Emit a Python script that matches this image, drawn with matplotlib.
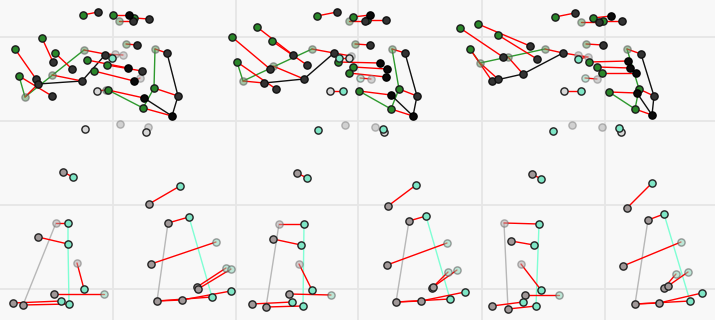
import matplotlib
matplotlib.use("Agg")
import matplotlib.pyplot as plt

# ---------------- data (image-plane coordinates, y grows downward) ----------------
GRID_X = [113, 236, 358, 482, 605]
GRID_Y = [37, 121, 205, 289]

GREEN_PTS = [
    (83, 15), (113, 15), (134, 18), (42, 38), (15, 49), (55, 53), (19, 76), (87, 60), (107, 65),
    (94, 71), (154, 88), (143, 108), (108, 90),
    (317, 16), (353, 17), (367, 20), (257, 27), (232, 37), (272, 41), (237, 62), (338, 62),
    (353, 67), (349, 73), (359, 91), (399, 89), (391, 109),
    (555, 17), (593, 18), (603, 21), (460, 28), (478, 24), (498, 35), (470, 49), (589, 62),
    (597, 67), (602, 73), (609, 92), (639, 89), (635, 109),
]
GREEN_FADED_PTS = [
    (119, 21), (25, 97), (84, 50), (52, 75), (126, 44), (155, 49), (106, 90),
    (349, 21), (243, 81), (312, 49), (273, 66), (355, 44), (392, 49),
    (581, 22), (480, 63), (508, 57), (545, 49), (586, 44), (627, 49),
]
DARK_PTS = [
    (98, 12), (149, 19), (133, 21), (53, 62), (36, 79), (72, 69), (52, 96), (38, 84),
    (82, 81), (105, 55), (142, 71), (137, 45), (167, 53), (178, 96),
    (337, 12), (386, 20), (365, 21), (293, 55), (270, 69), (307, 65), (276, 89),
    (264, 83), (304, 79), (334, 53), (370, 45), (405, 53), (417, 96),
    (575, 13), (622, 21), (599, 22), (530, 46), (537, 59), (503, 57), (492, 81),
    (498, 79), (523, 74), (563, 53), (603, 45), (641, 54), (654, 96),
]
BLACK_PTS = [
    (129, 15), (128, 68), (134, 81), (144, 98), (172, 116),
    (370, 15), (380, 63), (387, 69), (386, 77), (391, 95), (413, 116),
    (611, 16), (628, 61), (630, 68), (636, 73), (637, 93), (652, 115),
]
PALE_PTS = [
    (115, 54), (123, 55), (140, 78), (120, 124), (148, 127),
    (351, 56), (371, 79), (345, 125), (375, 127),
    (578, 55), (588, 57), (597, 79), (572, 125), (602, 127),
]
OPEN_PTS = [(97, 91), (146, 132), (330, 91), (564, 91), (85, 129), (384, 132), (621, 132), (349, 58)]

GRAY_PTS = [
    (63, 172), (149, 204), (38, 237), (54, 294), (13, 303), (23, 305), (168, 223), (151, 264),
    (197, 287), (198, 289), (157, 301), (182, 300),
    (297, 173), (388, 206), (273, 239), (289, 294), (252, 304), (266, 307), (409, 221),
    (387, 265), (432, 288), (433, 287), (396, 302), (421, 301),
    (532, 174), (627, 208), (511, 241), (525, 295), (492, 306), (508, 309), (648, 220),
    (623, 266), (664, 288), (668, 286), (635, 304), (659, 303),
]
GRAY_FADED_PTS = [(56, 223), (77, 263), (279, 224), (299, 264), (504, 223), (521, 264)]
AQUA_PTS = [
    (73, 177), (180, 186), (68, 223), (68, 244), (84, 289), (61, 301), (69, 304), (189, 217),
    (212, 297), (231, 291), (112, 58),
    (307, 178), (416, 185), (304, 224), (301, 245), (312, 290), (292, 302), (303, 306),
    (426, 216), (450, 299), (465, 292), (339, 58), (343, 91), (318, 130), (383, 129),
    (541, 179), (652, 183), (539, 224), (534, 245), (541, 290), (523, 302), (536, 306),
    (664, 214), (690, 301), (702, 293), (578, 59), (581, 91), (553, 131), (619, 128),
]
AQUA_FADED_PTS = [
    (104, 294), (216, 242), (226, 268), (231, 269),
    (331, 295), (447, 243), (448, 272), (457, 270), (360, 78),
    (559, 295), (681, 242), (676, 274), (688, 272), (585, 78),
]

RED_SEGMENTS = [
    ((83, 15), (98, 12)), ((113, 15), (129, 15)), ((134, 18), (149, 19)), ((119, 21), (133, 21)),
    ((42, 38), (53, 62)), ((15, 49), (36, 79)), ((55, 53), (72, 69)), ((19, 76), (52, 96)),
    ((25, 97), (38, 84)), ((84, 50), (105, 54)), ((105, 54), (123, 55)), ((87, 60), (128, 68)),
    ((107, 65), (142, 71)), ((94, 71), (134, 81)), ((134, 81), (140, 78)), ((52, 75), (82, 81)),
    ((126, 44), (137, 45)), ((155, 49), (167, 53)), ((154, 88), (178, 96)),
    ((143, 108), (172, 116)), ((108, 90), (144, 98)), ((97, 91), (106, 90)),
    ((63, 172), (73, 177)), ((149, 204), (180, 186)), ((56, 223), (68, 223)),
    ((38, 237), (68, 244)), ((77, 263), (84, 289)), ((54, 294), (104, 294)),
    ((13, 303), (61, 301)), ((23, 305), (69, 304)), ((168, 223), (189, 217)),
    ((151, 264), (216, 242)), ((197, 287), (226, 268)), ((198, 289), (231, 269)),
    ((157, 301), (182, 300)), ((157, 301), (212, 297)), ((182, 300), (231, 291)),
    ((317, 16), (337, 12)), ((353, 17), (370, 15)), ((367, 20), (386, 20)), ((349, 21), (365, 21)),
    ((257, 27), (293, 55)), ((232, 37), (270, 69)), ((272, 41), (307, 65)), ((237, 62), (276, 89)),
    ((243, 81), (264, 83)), ((312, 49), (334, 53)), ((334, 53), (351, 56)), ((273, 66), (304, 79)),
    ((338, 62), (380, 63)), ((353, 67), (387, 69)), ((349, 73), (386, 77)), ((360, 78), (371, 79)),
    ((355, 44), (370, 45)), ((330, 91), (343, 91)), ((359, 91), (391, 95)), ((392, 49), (405, 53)),
    ((399, 89), (417, 96)), ((391, 109), (413, 116)), ((339, 58), (349, 58)),
    ((297, 173), (307, 178)), ((388, 206), (416, 185)), ((279, 224), (304, 224)),
    ((273, 239), (301, 245)), ((299, 264), (312, 290)), ((289, 294), (331, 295)),
    ((252, 304), (292, 302)), ((266, 307), (303, 306)), ((409, 221), (426, 216)),
    ((387, 265), (447, 243)), ((432, 288), (448, 272)), ((433, 287), (457, 270)),
    ((396, 302), (421, 301)), ((396, 302), (450, 299)), ((421, 301), (465, 292)),
    ((555, 17), (575, 13)), ((593, 18), (611, 16)), ((603, 21), (622, 21)), ((581, 22), (599, 22)),
    ((478, 24), (530, 46)), ((498, 35), (537, 59)), ((460, 28), (503, 57)), ((470, 49), (492, 81)),
    ((480, 63), (498, 79)), ((508, 57), (523, 74)), ((545, 49), (563, 53)), ((563, 53), (588, 57)),
    ((589, 62), (628, 61)), ((597, 67), (630, 68)), ((602, 73), (636, 73)), ((585, 78), (597, 79)),
    ((586, 44), (603, 45)), ((564, 91), (581, 91)), ((609, 92), (637, 93)), ((627, 49), (641, 54)),
    ((639, 89), (654, 96)), ((635, 109), (652, 115)), ((578, 59), (588, 57)),
    ((532, 174), (541, 179)), ((627, 208), (652, 183)), ((504, 223), (539, 224)),
    ((511, 241), (534, 245)), ((521, 264), (541, 290)), ((525, 295), (559, 295)),
    ((492, 306), (523, 302)), ((508, 309), (536, 306)), ((648, 220), (664, 214)),
    ((623, 266), (681, 242)), ((664, 288), (676, 274)), ((668, 286), (688, 272)),
    ((635, 304), (659, 303)), ((635, 304), (690, 301)), ((659, 303), (702, 293)),
]

GREEN_LINES = [
    [(19, 76), (25, 97), (84, 50)], [(155, 49), (154, 88), (143, 108)], [(108, 90), (143, 108)],
    [(237, 62), (243, 81), (312, 49)], [(392, 49), (399, 89), (391, 109)], [(359, 91), (391, 109)],
    [(470, 49), (480, 63), (545, 49)], [(627, 49), (639, 89), (635, 109)], [(609, 92), (635, 109)],
]
BLACK_LINES = [
    [(38, 84), (82, 81), (105, 55)], [(167, 53), (178, 96), (172, 116)], [(144, 98), (172, 116)],
    [(264, 83), (304, 79), (334, 53)], [(405, 53), (417, 96), (413, 116)], [(391, 95), (413, 116)],
    [(492, 81), (523, 74), (563, 53)], [(641, 54), (654, 96), (652, 115)], [(637, 93), (652, 115)],
]
GRAY_LINES = [
    [(56, 223), (23, 305)], [(168, 223), (157, 301)],
    [(279, 224), (266, 307)], [(409, 221), (396, 302)],
    [(504, 223), (508, 309)], [(648, 220), (635, 304)],
]
AQUA_LINES = [
    [(68, 223), (68, 244), (69, 304)], [(189, 217), (212, 297)],
    [(304, 224), (303, 306)], [(426, 216), (450, 299)],
    [(539, 224), (536, 306)], [(664, 214), (690, 301)],
]

# ---------------- drawing ----------------
fig = plt.figure(figsize=(7.15, 3.2), dpi=100)
ax = fig.add_axes([0, 0, 1, 1])
ax.set_facecolor("#f8f8f8")
ax.set_xlim(0, 715)
ax.set_ylim(320, 0)
ax.set_xticks(GRID_X)
ax.set_yticks(GRID_Y)
ax.tick_params(length=0, labelbottom=False, labelleft=False)
ax.grid(True, color="#e6e6e6", linewidth=1.3)
ax.set_axisbelow(True)
for s in ax.spines.values():
    s.set_visible(False)


def polylines(lines, color, lw, alpha=1.0, z=2):
    for ln in lines:
        xs = [p[0] for p in ln]
        ys = [p[1] for p in ln]
        ax.plot(xs, ys, color=color, lw=lw, alpha=alpha, zorder=z, solid_capstyle="round")


polylines(GRAY_LINES, "#b8b8b8", 1.0)
polylines(AQUA_LINES, "#7fffd4", 1.0)
polylines(GREEN_LINES, "#2e9a2e", 1.0)
polylines(BLACK_LINES, "#111111", 1.0)
polylines([list(s) for s in RED_SEGMENTS], "#ff0000", 1.0, z=3)


def pts(points, face, edge, alpha=1.0, ms=5.2, mew=1.0, z=4):
    xs = [p[0] for p in points]
    ys = [p[1] for p in points]
    ax.plot(xs, ys, "o", ms=ms, mfc=face, mec=edge, mew=mew, alpha=alpha, zorder=z, ls="none")


pts(PALE_PTS, "#b8b8b8", "#888888", alpha=0.6)
pts(GREEN_FADED_PTS, "#5f9a5f", "#555555", alpha=0.55)
pts(GRAY_FADED_PTS, "#b0a8a8", "#666666", alpha=0.5)
pts(AQUA_FADED_PTS, "#8fd8bc", "#555555", alpha=0.55)
pts(OPEN_PTS, "#d8d8d8", "#222222")
pts(GREEN_PTS, "#2a862a", "#1a1a1a")
pts(DARK_PTS, "#333333", "#111111")
pts(BLACK_PTS, "#0a0a0a", "#000000")
pts(GRAY_PTS, "#a09898", "#222222")
pts(AQUA_PTS, "#7fe6c6", "#222222")

fig.savefig("out.png", dpi=100)
